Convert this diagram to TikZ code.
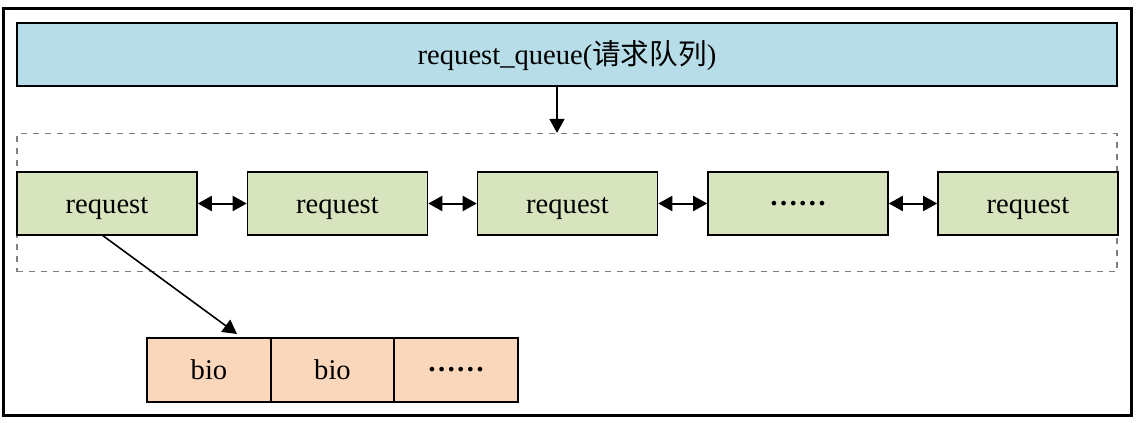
\documentclass[tikz,border=0pt]{standalone}
\usepackage{fontspec}
\setmainfont{Liberation Serif}
\newfontfamily\cjk{Noto Sans CJK SC}
\usetikzlibrary{arrows.meta}
\definecolor{qblue}{HTML}{B7DDE8}
\definecolor{rgreen}{HTML}{D7E4BD}
\definecolor{bpeach}{HTML}{FAD7BA}
\definecolor{dgray}{HTML}{808080}
\newcommand{\mydots}{\raisebox{0.27em}{\textbf{\char"2026\char"2026}}}
\begin{document}
\begin{tikzpicture}[x=0.5pt,y=-0.5pt,
  box/.style={draw=black,line width=0.8pt,minimum width=90pt,minimum height=31.5pt,inner sep=0pt,
    text height=9.6pt,text depth=0pt,font=\fontsize{14.3}{16}\selectfont},
  reqbox/.style={box,fill=rgreen},
  biobox/.style={box,fill=bpeach,minimum width=61.75pt,minimum height=32pt},
  conn/.style={line width=0.8pt,-{Triangle[length=7pt,width=7.5pt]}},
  dconn/.style={line width=1pt,{Triangle[length=7pt,width=7.5pt]}-{Triangle[length=7pt,width=7.5pt]}}
]
\useasboundingbox (0,0) rectangle (1136,423);
\node[draw=black,line width=1.5pt,minimum width=564pt,minimum height=203.5pt,inner sep=0pt] (frame) at (567,211.5) {};
\node[box,fill=qblue,minimum width=550pt] (queue) at (567,54.5) {request\_queue({\cjk 请求队列})};
\node[draw=dgray,dashed,line width=0.6pt,minimum width=550pt,minimum height=69pt,inner sep=0pt] (group) at (567,202.5) {};
\node[reqbox] (r1) at (107,203.5) {request};
\node[reqbox] (r2) at (337.5,203.5) {request};
\node[reqbox] (r3) at (567.5,203.5) {request};
\node[reqbox] (r4) at (798,203.5) {\mydots};
\node[reqbox] (r5) at (1028,203.5) {request};
\node[biobox] (b1) at (209,370) {bio};
\node[biobox] (b2) at (332.5,370) {bio};
\node[biobox] (b3) at (456,370) {\mydots};
\draw[conn] ([xshift=-5pt]queue.south) -- ([xshift=-5pt]group.north);
\draw[dconn] (r1) -- (r2);
\draw[dconn] (r2) -- (r3);
\draw[dconn] (r3) -- (r4);
\draw[dconn] (r4) -- (r5);
\coordinate (rs) at (102,235);
\coordinate (bt) at (237,334);
\draw[conn] (rs) -- (bt);
\end{tikzpicture}
\end{document}
